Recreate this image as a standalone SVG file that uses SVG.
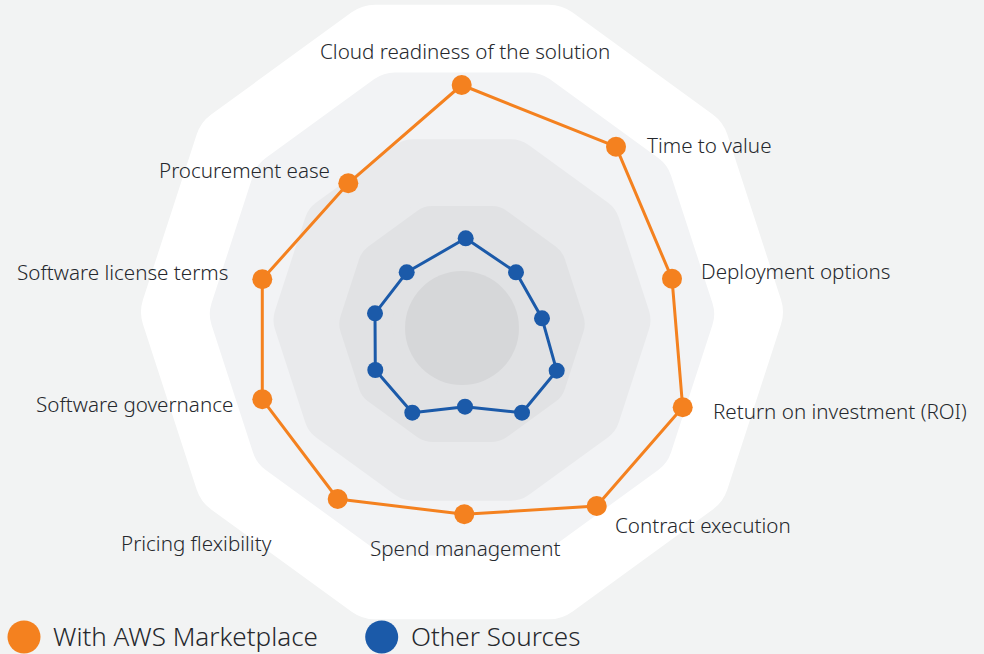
<svg xmlns="http://www.w3.org/2000/svg" width="984" height="654" viewBox="0 0 984 654">
<style>
.lbl{font-family:"Noto Sans","Open Sans","Liberation Sans",sans-serif;font-size:20.6px;font-weight:300;fill:#25282d}
.leg{font-family:"Noto Sans","Open Sans","Liberation Sans",sans-serif;font-size:26px;font-weight:300;fill:#25282d}
.or{fill:#f4811f}
.bl{fill:#1b5aa9}
.orl{fill:none;stroke:#f4811f;stroke-width:3;stroke-linejoin:round}
.bll{fill:none;stroke:#1b5aa9;stroke-width:3;stroke-linejoin:round}
</style>
<rect width="984" height="654" fill="#f2f3f3"/>
<g id="background">
<polygon points="743,312 689.3,477.2 548.8,579.3 375.2,579.3 234.7,477.2 181,312 234.7,146.8 375.2,44.7 548.8,44.7 689.3,146.8" fill="#ffffff" stroke="#ffffff" stroke-width="80" stroke-linejoin="round"/>
<polygon points="679.2,314 637.7,441.7 529.1,520.6 394.9,520.6 286.3,441.7 244.8,314 286.3,186.3 394.9,107.4 529.1,107.4 637.7,186.3" fill="#f2f3f5" stroke="#f2f3f5" stroke-width="70" stroke-linejoin="round"/>
<polygon points="620.5,320 590.2,413.2 511,470.7 413,470.7 333.8,413.2 303.5,320 333.8,226.8 413,169.3 511,169.3 590.2,226.8" fill="#e9eaec" stroke="#e9eaec" stroke-width="60" stroke-linejoin="round"/>
<polygon points="559.7,324 541,381.4 492.2,416.9 431.8,416.9 383,381.4 364.3,324 383,266.6 431.8,231.1 492.2,231.1 541,266.6" fill="#e1e2e4" stroke="#e1e2e4" stroke-width="50" stroke-linejoin="round"/>
<circle cx="462" cy="328" r="57" fill="#d6d7d9"/>
</g>
<g id="connectors">
<polygon class="orl" points="461.7,85 616,146.7 672,278.7 682.7,407.3 596.7,506 464.3,514.3 337.7,499 262.3,399.3 262.3,279.3 348.3,183.3"/>
<polygon class="bll" points="465.7,238.3 516,272.3 542,318.3 556.7,370.7 522,412.7 465,406.7 412.3,412.7 375.3,370 375,313.3 406.7,272.3"/>
</g>
<g id="series-aws">
<circle class="or" cx="461.7" cy="85" r="10"/>
<circle class="or" cx="616" cy="146.7" r="10"/>
<circle class="or" cx="672" cy="278.7" r="10"/>
<circle class="or" cx="682.7" cy="407.3" r="10"/>
<circle class="or" cx="596.7" cy="506" r="10"/>
<circle class="or" cx="464.3" cy="514.3" r="10"/>
<circle class="or" cx="337.7" cy="499" r="10"/>
<circle class="or" cx="262.3" cy="399.3" r="10"/>
<circle class="or" cx="262.3" cy="279.3" r="10"/>
<circle class="or" cx="348.3" cy="183.3" r="10"/>
</g>
<g id="series-other">
<circle class="bl" cx="465.7" cy="238.3" r="8"/>
<circle class="bl" cx="516" cy="272.3" r="8"/>
<circle class="bl" cx="542" cy="318.3" r="8"/>
<circle class="bl" cx="556.7" cy="370.7" r="8"/>
<circle class="bl" cx="522" cy="412.7" r="8"/>
<circle class="bl" cx="465" cy="406.7" r="8"/>
<circle class="bl" cx="412.3" cy="412.7" r="8"/>
<circle class="bl" cx="375.3" cy="370" r="8"/>
<circle class="bl" cx="375" cy="313.3" r="8"/>
<circle class="bl" cx="406.7" cy="272.3" r="8"/>
</g>
<g id="label-cloud"><text class="lbl" x="320" y="59">Cloud readiness of the solution</text></g>
<g id="label-time"><text class="lbl" x="647" y="153">Time to value</text></g>
<g id="label-deploy"><text class="lbl" x="701" y="279">Deployment options</text></g>
<g id="label-roi"><text class="lbl" x="713" y="419">Return on investment (ROI)</text></g>
<g id="label-contract"><text class="lbl" x="615" y="533">Contract execution</text></g>
<g id="label-spend"><text class="lbl" x="370" y="556">Spend management</text></g>
<g id="label-pricing"><text class="lbl" x="121" y="551">Pricing flexibility</text></g>
<g id="label-governance"><text class="lbl" x="36" y="412">Software governance</text></g>
<g id="label-license"><text class="lbl" x="17" y="280">Software license terms</text></g>
<g id="label-procurement"><text class="lbl" x="159" y="178">Procurement ease</text></g>
<g id="legend">
<circle class="or" cx="24" cy="637" r="16.5"/>
<text class="leg" x="53" y="646">With AWS Marketplace</text>
<circle class="bl" cx="381.7" cy="637" r="16.5"/>
<text class="leg" x="411" y="646">Other Sources</text>
</g>
</svg>
